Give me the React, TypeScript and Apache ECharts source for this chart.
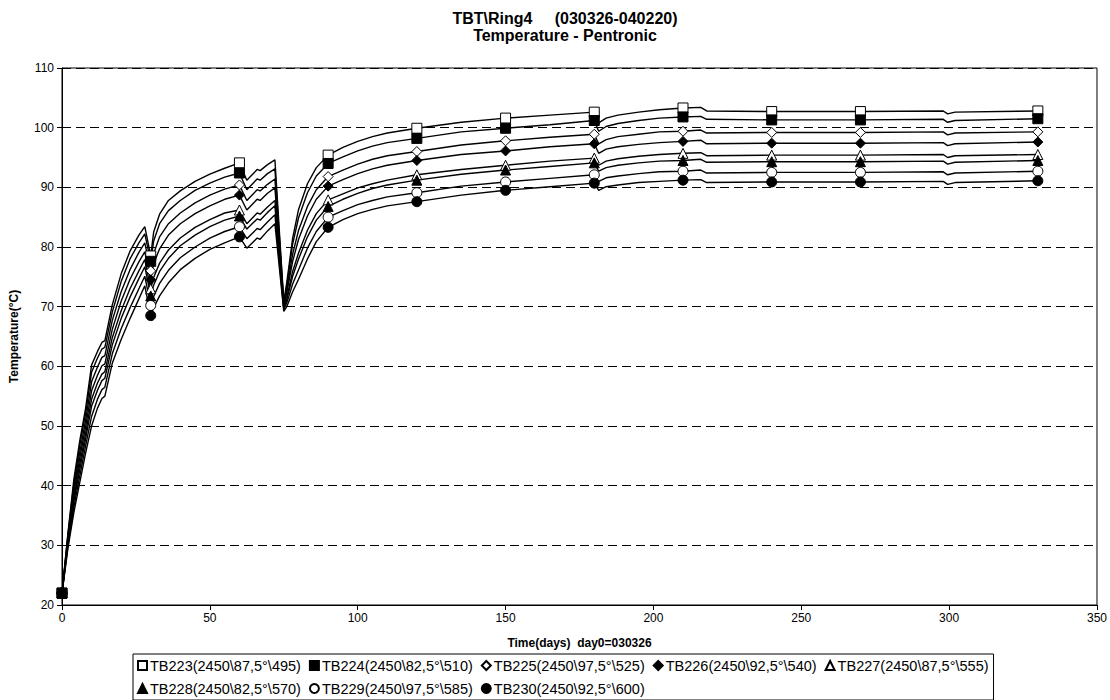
import React, { useEffect, useRef } from "react";
import * as echarts from "echarts";

// Sampling days (day 0 = 030326)
const DAYS = [
  0, 2, 4, 6, 8, 10, 12, 13.5, 14.5, 17, 20, 23, 26, 28,
  30, 31, 33, 36, 40, 45, 50, 55, 60,
  62.5, 66, 67, 69.5, 72,
  75, 76, 78, 80, 83, 86, 90,
  95, 100, 105, 110, 120, 135, 150, 165, 180,
  181.5, 184, 188, 195, 202, 210, 216, 218, 240, 270,
  298, 299.5, 302, 330,
];

// Temperatures (°C) per sensor, aligned with DAYS
const TB223 = [
  22, 32, 41, 47.5, 53, 60.2, 62.5, 64.0, 64.3, 70.3, 75.5, 79.3, 82.0, 83.4,
  78.5, 82.5, 85.5, 87.8, 89.4, 91.0, 92.2, 93.2, 94.1,
  91.2, 93.0, 92.8, 93.8, 94.6,
  70.8, 74.0, 81.5, 86.3, 90.6, 93.3, 95.4,
  96.7, 97.7, 98.5, 99.1, 99.9, 100.9, 101.6, 102.1, 102.6,
  100.8, 101.6, 102.1, 102.6, 103.0, 103.3, 103.4, 102.8, 102.7, 102.7,
  102.8, 102.3, 102.6, 102.8,
];
const TB224 = [
  22, 31.7, 40.3, 46.7, 52.1, 59.0, 61.4, 62.9, 63.2, 69.1, 74.2, 78.0, 80.7, 82.2,
  77.6, 81.0, 83.9, 86.1, 87.8, 89.5, 90.7, 91.7, 92.4,
  89.6, 91.4, 91.2, 92.3, 93.1,
  70.6, 73.5, 80.5, 84.9, 89.1, 91.9, 94.0,
  95.1, 96.1, 96.9, 97.5, 98.2, 99.3, 99.9, 100.5, 101.2,
  99.4, 100.2, 100.7, 101.2, 101.6, 101.8, 101.9, 101.4, 101.3, 101.3,
  101.4, 100.9, 101.2, 101.5,
];
const TB225 = [
  22, 31.3, 39.5, 45.6, 51.0, 57.4, 59.9, 61.5, 61.8, 67.7, 72.5, 76.2, 79.1, 80.7,
  76.0, 78.9, 81.7, 83.9, 85.7, 87.4, 88.7, 89.7, 90.4,
  87.8, 89.6, 89.4, 90.5, 91.4,
  70.4, 72.8, 78.8, 82.8, 86.8, 89.6, 91.8,
  92.9, 93.9, 94.7, 95.3, 96.0, 97.1, 97.8, 98.4, 98.9,
  97.3, 98.0, 98.5, 98.9, 99.3, 99.4, 99.6, 99.1, 99.2, 99.2,
  99.3, 98.8, 99.1, 99.3,
];
const TB226 = [
  22, 31.0, 38.7, 44.6, 49.9, 55.9, 58.5, 60.1, 60.4, 66.2, 70.9, 74.6, 77.5, 79.2,
  74.5, 77.2, 79.7, 82.0, 83.9, 85.6, 86.9, 88.0, 88.7,
  86.2, 88.0, 87.8, 89.0, 89.9,
  70.2, 72.3, 77.6, 81.3, 85.2, 88.0, 90.2,
  91.3, 92.3, 93.1, 93.7, 94.5, 95.5, 96.1, 96.8, 97.3,
  95.7, 96.4, 96.8, 97.2, 97.5, 97.7, 97.9, 97.3, 97.4, 97.4,
  97.5, 97.0, 97.3, 97.6,
];
const TB227 = [
  22, 30.6, 37.9, 43.6, 48.8, 54.5, 57.2, 58.7, 59.1, 64.8, 69.3, 73.0, 76.0, 77.9,
  73.0, 74.9, 77.3, 79.5, 81.5, 83.3, 84.6, 85.7, 86.2,
  83.9, 85.7, 85.5, 86.7, 87.8,
  70.0, 71.5, 75.9, 79.0, 82.8, 85.6, 87.9,
  88.9, 89.9, 90.6, 91.2, 92.1, 93.0, 93.7, 94.4, 94.9,
  93.7, 94.4, 94.8, 95.2, 95.5, 95.7, 95.8, 95.3, 95.4, 95.4,
  95.5, 95.0, 95.3, 95.5,
];
const TB228 = [
  22, 30.3, 37.3, 42.7, 47.9, 53.3, 56.0, 57.6, 58.0, 63.6, 68.0, 71.6, 74.7, 76.7,
  71.8, 73.6, 75.9, 78.1, 80.2, 82.0, 83.4, 84.5, 85.2,
  83.0, 84.7, 84.5, 85.8, 86.9,
  69.8, 71.2, 75.1, 78.0, 81.7, 84.5, 86.8,
  88.0, 89.0, 89.8, 90.4, 91.2, 92.2, 92.9, 93.5, 94.1,
  92.7, 93.3, 93.7, 94.1, 94.4, 94.5, 94.7, 94.2, 94.3, 94.3,
  94.4, 93.9, 94.2, 94.5,
];
const TB229 = [
  22, 29.9, 36.4, 41.6, 46.7, 51.6, 54.5, 56.1, 56.5, 62.1, 66.3, 69.8, 73.0, 75.1,
  70.2, 71.7, 73.9, 76.1, 78.2, 80.0, 81.5, 82.6, 83.4,
  81.4, 83.1, 82.9, 84.2, 85.4,
  69.5, 70.6, 73.8, 76.2, 79.8, 82.6, 85.0,
  86.1, 87.1, 87.8, 88.4, 89.1, 90.2, 90.9, 91.5, 92.1,
  91.0, 91.6, 91.9, 92.3, 92.6, 92.7, 92.9, 92.4, 92.5, 92.5,
  92.6, 92.1, 92.4, 92.7,
];
const TB230 = [
  22, 29.5, 35.5, 40.5, 45.5, 50.0, 53.0, 54.6, 55.0, 60.5, 64.5, 68.0, 71.3, 73.5,
  68.5, 69.8, 71.8, 74.0, 76.2, 78.1, 79.6, 80.7, 81.7,
  79.8, 81.5, 81.3, 82.7, 83.9,
  69.2, 70.0, 72.5, 74.6, 78.0, 80.9, 83.3,
  84.6, 85.6, 86.3, 86.9, 87.6, 88.7, 89.5, 90.1, 90.7,
  89.5, 90.1, 90.4, 90.8, 91.0, 91.2, 91.3, 90.8, 90.9, 90.9,
  91.0, 90.5, 90.8, 91.1,
];

// Days on which a marker is drawn
const MARKER_DAYS = [0, 30, 60, 90, 120, 150, 180, 210, 240, 270, 330];

const SENSOR_NAMES = [
  "TB223(2450\\87,5°\\495)",
  "TB224(2450\\82,5°\\510)",
  "TB225(2450\\97,5°\\525)",
  "TB226(2450\\92,5°\\540)",
  "TB227(2450\\87,5°\\555)",
  "TB228(2450\\82,5°\\570)",
  "TB229(2450\\97,5°\\585)",
  "TB230(2450\\92,5°\\600)",
];
const SENSOR_VALUES = [TB223, TB224, TB225, TB226, TB227, TB228, TB229, TB230];
const SENSOR_SYMBOLS = ["rect", "rect", "diamond", "diamond", "triangle", "triangle", "circle", "circle"];
const SENSOR_FILLED = [false, true, false, true, false, true, false, true];

const FONT = "'Liberation Sans', Arial, sans-serif";

export default function App() {
  const ref = useRef<HTMLDivElement>(null);

  useEffect(() => {
    if (!ref.current) return;
    const chart = echarts.init(ref.current, null, { renderer: "svg" });

    const series = SENSOR_NAMES.map((name, i) => ({
      name,
      type: "line",
      data: DAYS.map((d, j) => [d, SENSOR_VALUES[i][j]]),
      symbol: SENSOR_SYMBOLS[i],
      symbolSize: (v: number[]) => (MARKER_DAYS.includes(v[0]) ? 10 : 0),
      showSymbol: true,
      showAllSymbol: true,
      lineStyle: { color: "#000", width: 1.4 },
      itemStyle: {
        color: SENSOR_FILLED[i] ? "#000" : "#fff",
        borderColor: "#000",
        borderWidth: 1,
      },
      emphasis: { disabled: true },
      z: 2,
    }));

    chart.setOption({
      animation: false,
      backgroundColor: "#fff",
      textStyle: { fontFamily: FONT },
      title: {
        text: "TBT\\Ring4     (030326-040220)\nTemperature - Pentronic",
        left: 560,
        textAlign: "center",
        top: 5,
        textStyle: {
          fontFamily: FONT,
          fontWeight: "bold",
          fontSize: 16,
          lineHeight: 17,
          color: "#000",
        },
      },
      grid: { left: 61, right: 13, top: 68, bottom: 95, show: true, borderColor: "#000", borderWidth: 1 },
      xAxis: {
        type: "value",
        min: 0,
        max: 350,
        interval: 50,
        name: "Time(days)  day0=030326",
        nameLocation: "middle",
        nameGap: 32,
        nameTextStyle: { fontFamily: FONT, fontWeight: "bold", fontSize: 12, color: "#000" },
        axisLine: { lineStyle: { color: "#000", width: 1 } },
        axisTick: { show: true, length: 5, lineStyle: { color: "#000" } },
        axisLabel: { color: "#000", fontSize: 12, fontFamily: FONT, margin: 7 },
        splitLine: { show: false },
      },
      yAxis: {
        type: "value",
        min: 20,
        max: 110,
        interval: 10,
        name: "Temperature(°C)",
        nameLocation: "middle",
        nameGap: 42,
        nameTextStyle: { fontFamily: FONT, fontWeight: "bold", fontSize: 12, color: "#000" },
        axisLine: { show: true, lineStyle: { color: "#000", width: 1 } },
        axisTick: { show: true, length: 5, lineStyle: { color: "#000" } },
        axisLabel: { color: "#000", fontSize: 12, fontFamily: FONT, margin: 8 },
        splitLine: { show: true, lineStyle: { color: "#000", type: [9, 5], width: 1 } },
      },
      legend: {
        left: 133,
        top: 654,
        width: 900,
        orient: "horizontal",
        padding: [4, 5, 4, 4],
        borderColor: "#000",
        borderWidth: 1,
        backgroundColor: "#fff",
        itemGap: 8,
        itemWidth: 9,
        itemHeight: 9,
        data: SENSOR_NAMES.map((name, i) => ({ name, icon: SENSOR_SYMBOLS[i] })),
        textStyle: { fontFamily: FONT, fontSize: 14.5, color: "#000", width: 159, padding: [0, 0, 0, -2] },
      },
      series,
    });

    return () => chart.dispose();
  }, []);

  return (
    <div
      ref={ref}
      style={{ position: "fixed", left: 0, top: 0, width: 1110, height: 700, background: "#fff" }}
    />
  );
}
